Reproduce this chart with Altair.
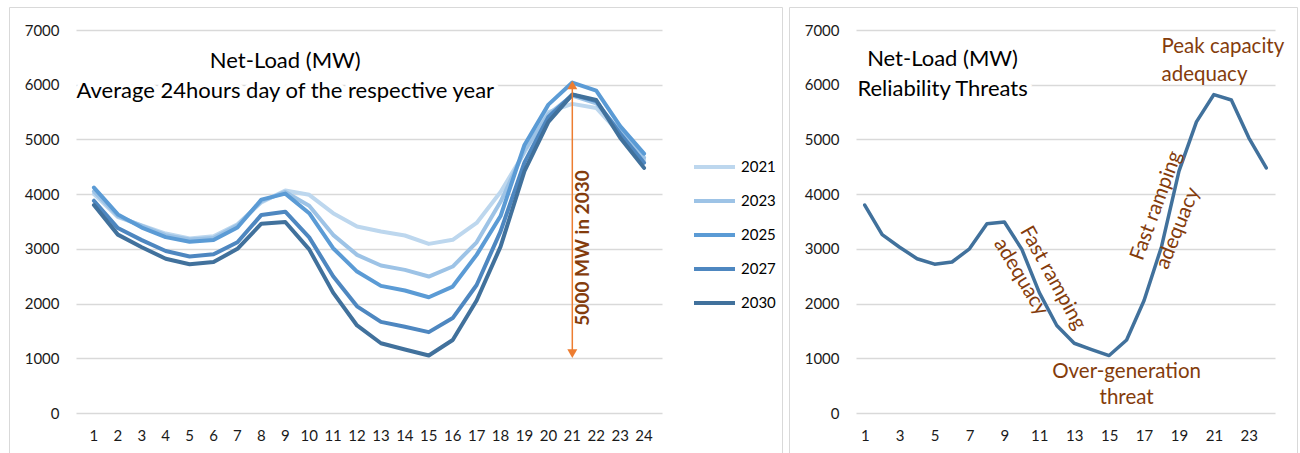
import altair as alt
import pandas as pd
import math

hours = list(range(1, 25))
years = ["2021", "2023", "2025", "2027", "2030"]
colors = ["#BDD7EE", "#9DC3E6", "#5B9BD5", "#4E87C0", "#41719C"]

load_2021 = [4000, 3580, 3430, 3280, 3190, 3230, 3450, 3850, 4067, 3988, 3652, 3409,
             3317, 3244, 3091, 3165, 3473, 4040, 4760, 5500, 5650, 5575, 5100, 4620]
load_2023 = [4050, 3600, 3420, 3250, 3170, 3200, 3430, 3870, 4040, 3787, 3256, 2890,
             2695, 2616, 2494, 2677, 3120, 3860, 4800, 5460, 5800, 5660, 5150, 4667]
load_2025 = [4120, 3630, 3390, 3215, 3130, 3160, 3390, 3900, 4010, 3652, 3012, 2585,
             2323, 2238, 2116, 2311, 2890, 3600, 4900, 5636, 6040, 5890, 5242, 4740]
load_2027 = [3880, 3380, 3160, 2960, 2860, 2900, 3120, 3620, 3680, 3210, 2500, 1950,
             1665, 1575, 1478, 1735, 2340, 3320, 4580, 5410, 5818, 5700, 5110, 4575]
load_2030 = [3800, 3260, 3030, 2820, 2720, 2760, 3000, 3460, 3490, 2990, 2200, 1600,
             1275, 1160, 1050, 1335, 2055, 3040, 4420, 5320, 5820, 5720, 5030, 4480]

series = [load_2021, load_2023, load_2025, load_2027, load_2030]
y_ticks = [0, 1000, 2000, 3000, 4000, 5000, 6000, 7000]
right_x_labels = [1, 3, 5, 7, 9, 11, 13, 15, 17, 19, 21, 23]

FONT = "Lato"
BROWN = "#843C0C"
ORANGE = "#ED7D31"
GRID = "#D9D9D9"
LABEL_COLOR = "#1a1a1a"

df_left = pd.DataFrame(
    [{"hour": h, "value": v, "year": y} for y, vals in zip(years, series) for h, v in zip(hours, vals)]
)
df_right = pd.DataFrame({"hour": hours, "value": load_2030})

W_L, W_R, H = 586, 419, 383


def x_enc(label_values=None):
    kw = dict(title=None, domain=False, ticks=False, grid=False, labelAngle=0,
              labelFont=FONT, labelFontSize=15, labelColor=LABEL_COLOR, labelPadding=15)
    if label_values is not None:
        kw["values"] = label_values
    return alt.X("hour:O", scale=alt.Scale(domain=hours, padding=0.5), axis=alt.Axis(**kw))


y_enc = alt.Y("value:Q", scale=alt.Scale(domain=[0, 7000], nice=False),
              axis=alt.Axis(title=None, domain=False, ticks=False, values=y_ticks, format="d",
                            gridColor=GRID, gridWidth=1.3, labelFont=FONT, labelFontSize=15,
                            labelColor=LABEL_COLOR, labelPadding=17))


def label(data_hour, data_value, text, size=22, color="black", shift=0, angle=0, align="center",
          baseline="alphabetic", weight="normal", knock=False):
    # shift is a horizontal screen offset; convert it to the rotated text frame
    th = math.radians(angle)
    dx = round(shift * math.cos(th), 2)
    dy = round(-shift * math.sin(th), 2)
    d = pd.DataFrame({"hour": [data_hour], "value": [data_value], "t": [text]})
    layers = []
    if knock:
        layers.append(alt.Chart(d).mark_text(font=FONT, fontSize=size, color="white", stroke="white",
                                             strokeWidth=8, dx=dx, dy=dy, angle=angle, align=align,
                                             baseline=baseline, fontWeight=weight).encode(
            x=alt.X("hour:O"), y=alt.Y("value:Q"), text="t:N"))
    layers.append(alt.Chart(d).mark_text(font=FONT, fontSize=size, color=color, dx=dx, dy=dy,
                                         angle=angle, align=align, baseline=baseline,
                                         fontWeight=weight).encode(
        x=alt.X("hour:O"), y=alt.Y("value:Q"), text="t:N"))
    return layers


def frame(x0, x1):
    d = pd.DataFrame({"hour": [1], "value": [0]})
    return alt.Chart(d).mark_rect(fillOpacity=0, stroke=GRID, strokeWidth=1).encode(
        x=alt.value(x0), x2=alt.value(x1), y=alt.value(-22.5), y2=alt.value(440))


# ---------- left panel ----------
left_lines = alt.Chart(df_left).mark_line(strokeWidth=4, strokeJoin="round", strokeCap="round").encode(
    x=x_enc(), y=y_enc,
    color=alt.Color("year:N", scale=alt.Scale(domain=years, range=colors),
                    legend=alt.Legend(orient="none", legendX=616, legendY=127, title=None,
                                      symbolType="stroke", symbolSize=1681, symbolStrokeWidth=4,
                                      clipHeight=20, rowPadding=14, labelFont=FONT, labelFontSize=15,
                                      labelColor="black", labelOffset=4, padding=0)),
)

arrow_df = pd.DataFrame({"hour": [21], "lo": [1050], "hi": [5960]})
arrow_rule = alt.Chart(arrow_df).mark_rule(color=ORANGE, strokeWidth=1.5).encode(
    x="hour:O", y="lo:Q", y2="hi:Q")
heads_df = pd.DataFrame({"hour": [21, 21], "value": [5995, 1084], "shape": ["triangle-up", "triangle-down"]})
arrow_heads = alt.Chart(heads_df).mark_point(filled=True, color=ORANGE, size=100, opacity=1).encode(
    x="hour:O", y="value:Q",
    shape=alt.Shape("shape:N", scale=None))

left_layers = [frame(-66.5, 706.5), left_lines, arrow_rule, arrow_heads]
left_layers += label(9, 6298, "Net-Load (MW)")
left_layers += label(9, 5754, "Average 24hours day of the respective year", knock=True)
left_layers += label(21, 3016, "5000 MW in 2030", size=19, color=BROWN, shift=11, angle=270,
                     baseline="middle", weight="bold")

left = alt.layer(*left_layers).properties(width=W_L, height=H)

# ---------- right panel ----------
right_line = alt.Chart(df_right).mark_line(strokeWidth=3.5, strokeJoin="round", strokeCap="round",
                                          color="#41719C").encode(
    x=x_enc(right_x_labels), y=y_enc)

right_layers = [frame(-66.5, 441.5), right_line]
right_layers += label(5, 6343, "Net-Load (MW)", shift=8)
right_layers += label(5, 5794, "Reliability Threats", shift=8, knock=True)
right_layers += label(18, 6574, "Peak capacity", size=20.5, color=BROWN, align="left")
right_layers += label(18, 6075, "adequacy", size=20.5, color=BROWN, align="left")
right_layers += label(16, 640, "Over-generation", size=20.5, color=BROWN)
right_layers += label(16, 165, "threat", size=20.5, color=BROWN)
right_layers += label(12, 2468, "Fast ramping", size=20.5, color=BROWN, shift=-4, angle=61, baseline="middle")
right_layers += label(10, 2486, "adequacy", size=20.5, color=BROWN, shift=-1, angle=59, baseline="middle")
right_layers += label(18, 3789, "Fast ramping", size=20.5, color=BROWN, shift=-5, angle=290, baseline="middle")
right_layers += label(19, 3376, "adequacy", size=20.5, color=BROWN, shift=-1, angle=292, baseline="middle")

right = alt.layer(*right_layers).properties(width=W_R, height=H)

chart = alt.hconcat(left, right, spacing=6).configure(
    padding={"left": 9, "top": 7, "right": 0, "bottom": 0}, background="white"
).configure_view(strokeWidth=0)

chart.save("out.html", embed_options={"renderer": "svg", "actions": False})
